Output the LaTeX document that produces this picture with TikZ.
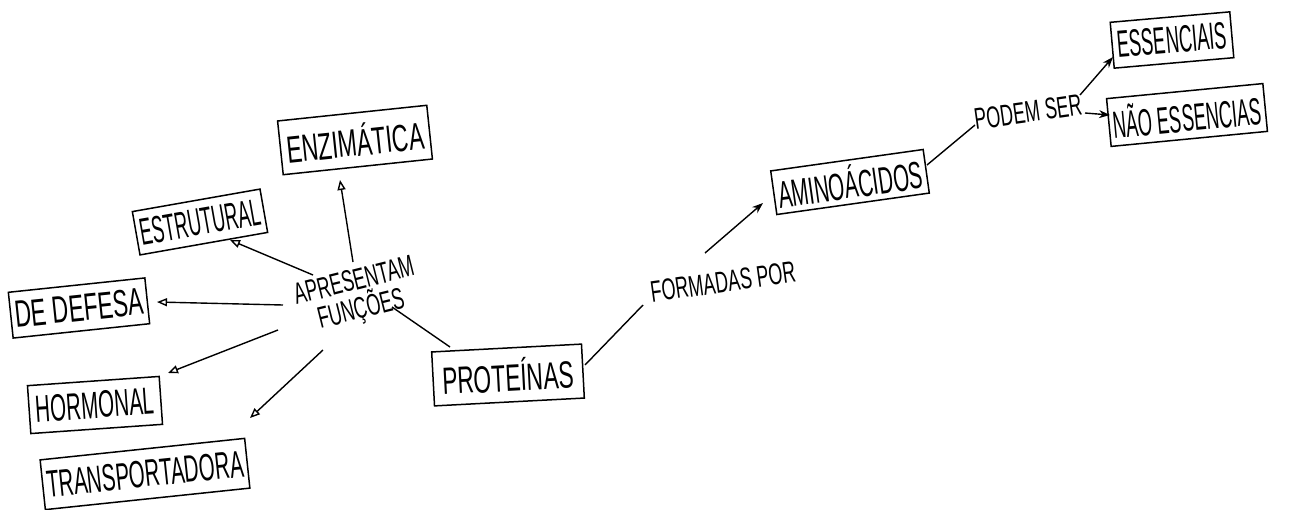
\documentclass[tikz,border=0pt]{standalone}
\usepackage{fontspec}
\setmainfont{Liberation Sans}
\newfontfamily\hand[FakeStretch=0.6]{Liberation Sans}
\newfontfamily\handn[FakeStretch=0.54]{Liberation Sans}
\newfontfamily\handnn[FakeStretch=0.48]{Liberation Sans}
\usetikzlibrary{arrows.meta,calc}
\begin{document}
\begin{tikzpicture}[x=1pt,y=-1pt,
  concept/.style={draw, line width=1.5pt, font=\hand\fontsize{38}{40}\selectfont, inner xsep=4pt, inner ysep=2pt, align=center, transform shape},
  lbl/.style={font=\hand\fontsize{30}{29}\selectfont, align=center, inner sep=3pt},
  oarr/.style={-{Triangle[open,length=10pt,width=8pt]}, line width=1.4pt},
  farr/.style={-{Stealth[length=11pt,width=8pt]}, line width=1.4pt},
  ln/.style={line width=1.4pt}]
\useasboundingbox[fill=white] (0,0) rectangle (1312,509);
% nodes
\begin{scope}[rotate around={6:(355,140)}]
\node[concept, minimum width=150, minimum height=54] (enz) at (355,140) {ENZIMÁTICA};
\end{scope}
\begin{scope}[rotate around={10:(200,222)}]
\node[concept, minimum width=128, minimum height=44] (est) at (200,222) {\handnn ESTRUTURAL};
\end{scope}
\begin{scope}[rotate around={6:(79,308)}]
\node[concept, minimum width=134, minimum height=46] (def) at (79,308) {DE DEFESA};
\end{scope}
\begin{scope}[rotate around={4:(95,405)}]
\node[concept, minimum width=132, minimum height=48] (hor) at (95,405) {\handn HORMONAL};
\end{scope}
\begin{scope}[rotate around={6:(145,474)}]
\node[concept, minimum width=200, minimum height=50] (tra) at (145,474) {\handn TRANSPORTADORA};
\end{scope}
\node[lbl, rotate=14] (apr) at (358,297) {APRESENTAM\\FUNÇÕES};
\begin{scope}[rotate around={3:(508,375)}]
\node[concept, minimum width=150, minimum height=54] (pro) at (508,375) {PROTEÍNAS};
\end{scope}
\node[lbl, rotate=8] (for) at (723,282) {FORMADAS POR};
\begin{scope}[rotate around={8:(850,182)}]
\node[concept, minimum width=146, minimum height=44] (ami) at (850,182) {\handn AMINOÁCIDOS};
\end{scope}
\node[lbl, rotate=8] (pod) at (1028,112) {PODEM SER};
\begin{scope}[rotate around={5:(1172,40)}]
\node[concept, minimum width=120, minimum height=46] (ess) at (1172,40) {\handnn ESSENCIAIS};
\end{scope}
\begin{scope}[rotate around={5.5:(1187,115)}]
\node[concept, minimum width=145, minimum height=48] (nao) at (1187,115) {\handnn NÃO ESSENCIAS};
\end{scope}
% connectors
\draw[oarr] ($(apr)+(-5,-35)$) -- ($(enz)+(-15,40)$);
\draw[oarr] ($(apr)+(-45,-22)$) -- ($(est)+(30,18)$);
\draw[oarr] ($(apr)+(-75,8)$) -- ($(def)+(78,-6)$);
\draw[oarr] ($(apr)+(-80,33)$) -- ($(hor)+(73,-32)$);
\draw[oarr] ($(apr)+(-35,53)$) -- ($(tra)+(105,-56)$);
\draw[ln] ($(pro)+(-58,-28)$) -- ($(apr)+(34,10)$);
\draw[ln] ($(pro)+(77,-10)$) -- ($(for)+(-80,23)$);
\draw[farr] ($(for)+(-18,-29)$) -- ($(ami)+(-87,21)$);
\draw[ln] ($(ami)+(77,-17)$) -- ($(pod)+(-53,13)$);
\draw[farr] ($(pod)+(52,-17)$) -- ($(ess)+(-59,17)$);
\draw[farr] ($(pod)+(57,1)$) -- ($(nao)+(-77,0)$);
\end{tikzpicture}
\end{document}
